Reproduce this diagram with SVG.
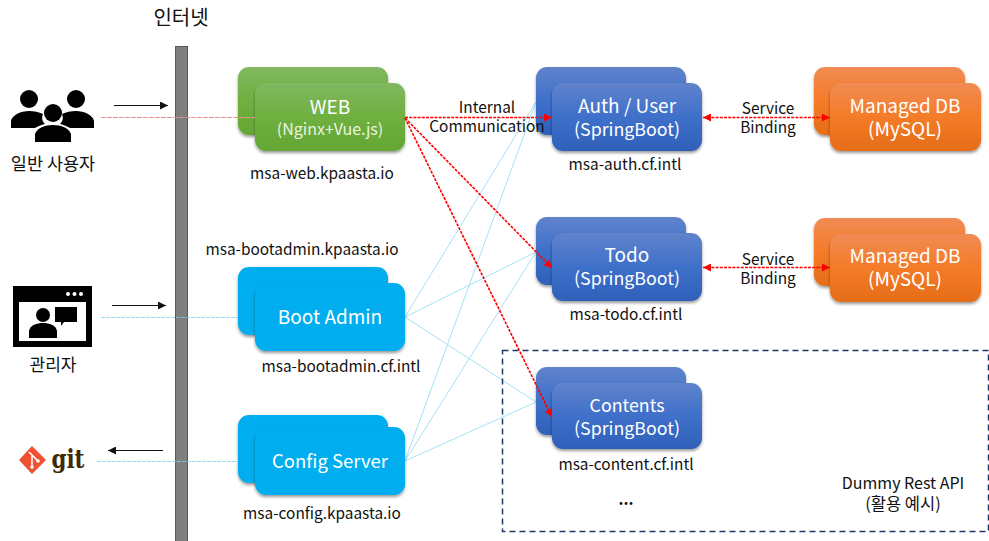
<svg xmlns="http://www.w3.org/2000/svg" width="989" height="541" viewBox="0 0 989 541">
<style>
text{font-family:"Noto Sans CJK KR","Noto Sans",sans-serif;text-anchor:middle;fill:#111}
.lbl{font-size:15.4px}
.ko{font-size:17.500px}
.big{font-size:19px;fill:#fff}
.sb{font-size:17.800px;fill:#fff}
.sub{font-size:16px;fill:#e8f5e0}
.box{stroke:none;filter:url(#sh)}
.flow{fill:none;stroke:#f00;stroke-width:1.600;stroke-dasharray:3 1.200}
.ia{stroke:#a6e0f5;stroke-width:1;fill:none}
.pale{stroke:#7fd0ee;stroke-width:1;stroke-dasharray:4 1;fill:none;opacity:.8}
.palered{stroke:#f28b8b;stroke-width:1;stroke-dasharray:5 1;fill:none}
.bk{stroke:#111;stroke-width:1.100;fill:none}
</style>
<defs>
<linearGradient id="g" x1="0" y1="0" x2="0" y2="1"><stop offset="0" stop-color="#81b861"/><stop offset=".5" stop-color="#6fb03f"/><stop offset="1" stop-color="#64a633"/></linearGradient>
<linearGradient id="b" x1="0" y1="0" x2="0" y2="1"><stop offset="0" stop-color="#6083cb"/><stop offset=".5" stop-color="#3f70ca"/><stop offset="1" stop-color="#2f60b9"/></linearGradient>
<linearGradient id="o" x1="0" y1="0" x2="0" y2="1"><stop offset="0" stop-color="#f18c55"/><stop offset=".5" stop-color="#f47b28"/><stop offset="1" stop-color="#e56d17"/></linearGradient>
<filter id="sh" x="-10%" y="-10%" width="120%" height="125%"><feDropShadow dx="0" dy="2" stdDeviation="1.600" flood-color="#000" flood-opacity=".4"/></filter>
<marker id="r" viewBox="0 0 10 10" refX="10" refY="5" markerWidth="8" markerHeight="8" orient="auto-start-reverse" markerUnits="userSpaceOnUse"><path d="M0 0L10 5L0 10z" fill="#f00"/></marker>
<marker id="k" viewBox="0 0 10 10" refX="10" refY="5" markerWidth="8" markerHeight="8" orient="auto-start-reverse" markerUnits="userSpaceOnUse"><path d="M0 0L10 5L0 10z" fill="#111"/></marker>
</defs>
<rect width="989" height="541" fill="#fff"/>

<g id="internet-bar"><rect x="175.500" y="46.500" width="12" height="495" fill="#7f7f7f" stroke="#595959"/><text x="181" y="25" font-size="20">인터넷</text></g>

<g id="user-actor">
<g fill="#000"><circle cx="29" cy="99" r="9"/><circle cx="76" cy="99" r="9"/><circle cx="53" cy="113" r="9"/>
<path d="M11 128v-7c1-6 10-10 18-10 5 0 10 1 14 3-2 5 0 8 2 10-4 1-7 2-10 4zM94 128v-7c-1-6-10-10-18-10-5 0-10 1-14 3 2 5 0 8-2 10 4 1 7 2 10 4z"/>
<path d="M35 142v-8c2-6 10-9 18-9s16 3 18 9v8z"/></g>
<text class="ko" x="53" y="170">일반 사용자</text></g>

<g id="admin-actor">
<rect x="13" y="286" width="79" height="61" fill="#000"/><rect x="19" y="302" width="67" height="39" fill="#fff"/>
<g fill="#fff"><circle cx="68" cy="294" r="2"/><circle cx="74.500" cy="294" r="2"/><circle cx="81" cy="294" r="2"/></g>
<g fill="#000"><circle cx="43" cy="315" r="7"/><path d="M29 338v-7c1-6 8-8 14-8s13 2 14 8v7z"/><path d="M55 307h22v15H64l-3 4v-4h-6z"/></g>
<text class="ko" x="53" y="371" style="font-size:17px">관리자</text></g>

<g id="git-logo">
<path d="M32 447L45 460L32 473L20 460z" fill="#f05133" stroke="#f05133" stroke-width="1.500" stroke-linejoin="round"/>
<path d="M29 452L38 461M32 456V467" stroke="#fff" stroke-width="1.500" fill="none"/><circle cx="32" cy="467" r="1.800" fill="#fff"/><circle cx="38" cy="461" r="1.800" fill="#fff"/>
<text x="68" y="468" font-size="26" font-weight="700" style="font-family:'DejaVu Serif',serif;fill:#3e2c00" textLength="33" lengthAdjust="spacingAndGlyphs">git</text></g>

<g id="connectors-back">
<path class="bk" d="M114 105.500H168" marker-end="url(#k)"/>
<path class="bk" d="M112 305.500H166" marker-end="url(#k)"/>
<path class="bk" d="M163 450.500H108" marker-end="url(#k)"/>
<path class="pale" d="M101 317.500H238M97 461.500H238"/>
<path class="ia" d="M405 317L536 102M405 317L536 252M405 317L536 402M405 461L536 102M405 461L536 252M405 461L536 402"/>
</g>

<g id="web"><rect class="box" x="238" y="67" width="150" height="68" rx="11" fill="url(#g)"/><rect class="box" x="255" y="83" width="150" height="68" rx="11" fill="url(#g)"/><text class="big" x="330" y="114">WEB</text><text class="sub" x="330" y="135">(Nginx+Vue.js)</text><text class="lbl" x="322" y="179">msa-web.kpaasta.io</text></g>

<g id="boot-admin"><rect class="box" x="238" y="267" width="150" height="68" rx="11" fill="#00aeef"/><rect class="box" x="255" y="283" width="150" height="68" rx="11" fill="#00aeef"/><text class="big" x="330" y="324">Boot Admin</text><text class="lbl" x="302" y="255">msa-bootadmin.kpaasta.io</text><text class="lbl" x="341" y="372">msa-bootadmin.cf.intl</text></g>

<g id="config-server"><rect class="box" x="238" y="415" width="150" height="68" rx="11" fill="#00aeef"/><rect class="box" x="255" y="427" width="150" height="68" rx="11" fill="#00aeef"/><text class="big" x="330" y="468" style="font-size:18.500px">Config Server</text><text class="lbl" x="322" y="519">msa-config.kpaasta.io</text></g>

<g id="auth"><rect class="box" x="536" y="67" width="150" height="68" rx="11" fill="url(#b)"/><rect class="box" x="552" y="83" width="150" height="68" rx="11" fill="url(#b)"/><text class="big" x="627" y="113">Auth / User</text><text class="sb" x="627" y="136">(SpringBoot)</text><text class="lbl" x="625" y="170">msa-auth.cf.intl</text></g>

<g id="todo"><rect class="box" x="536" y="217" width="150" height="68" rx="11" fill="url(#b)"/><rect class="box" x="552" y="233" width="150" height="68" rx="11" fill="url(#b)"/><text class="big" x="627" y="262">Todo</text><text class="sb" x="627" y="285">(SpringBoot)</text><text class="lbl" x="626" y="320">msa-todo.cf.intl</text></g>

<g id="contents"><rect class="box" x="536" y="367" width="150" height="68" rx="11" fill="url(#b)"/><rect class="box" x="552" y="383" width="150" height="66" rx="11" fill="url(#b)"/><text class="sb" x="627" y="412">Contents</text><text class="sb" x="627" y="435">(SpringBoot)</text><text class="lbl" x="626" y="470">msa-content.cf.intl</text></g>

<g id="db1"><rect class="box" x="814" y="67" width="151" height="68" rx="11" fill="url(#o)"/><rect class="box" x="830" y="83" width="151" height="68" rx="11" fill="url(#o)"/><text class="big" x="905" y="113">Managed DB</text><text class="big" x="905" y="136">(MySQL)</text></g>

<g id="db2"><rect class="box" x="814" y="218" width="151" height="68" rx="11" fill="url(#o)"/><rect class="box" x="830" y="234" width="151" height="68" rx="11" fill="url(#o)"/><text class="big" x="905" y="263">Managed DB</text><text class="big" x="905" y="286">(MySQL)</text></g>

<g id="connectors">
<path class="palered" d="M101 117.500H255"/>
<path class="flow" d="M405 117.500H552" marker-end="url(#r)"/>
<path class="flow" d="M405 118L552 268" marker-end="url(#r)"/>
<path class="flow" d="M405 118L552 417" marker-end="url(#r)"/>
<path class="flow" d="M703 117.500H830" marker-start="url(#r)" marker-end="url(#r)"/>
<path class="flow" d="M703 267.500H830" marker-start="url(#r)" marker-end="url(#r)"/>
</g>

<g id="labels">
<text class="lbl" x="487" y="113">Internal</text><text class="lbl" x="487" y="132">Communication</text>
<text class="lbl" x="768" y="114">Service</text><text class="lbl" x="768" y="133">Binding</text>
<text class="lbl" x="768" y="265">Service</text><text class="lbl" x="768" y="284">Binding</text>
</g>

<g id="dummy-area"><rect x="502.500" y="350.500" width="486" height="181" fill="none" stroke="#1f3864" stroke-width="1.500" stroke-dasharray="6 4"/>
<text class="lbl" x="626" y="505" font-weight="700">...</text>
<text class="lbl" x="903" y="489" style="font-size:16px">Dummy Rest API</text><text class="ko" x="903" y="510" style="font-size:16.500px">(활용 예시)</text></g>
</svg>
